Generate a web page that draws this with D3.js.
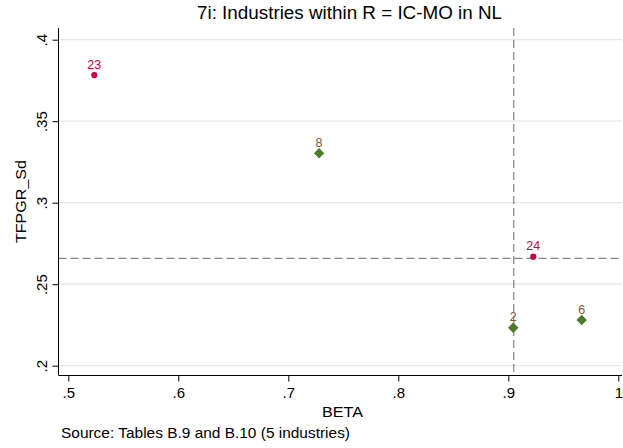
<!DOCTYPE html>
<html><head><meta charset="utf-8">
<script src="https://cdn.jsdelivr.net/npm/d3@7"></script>
<style>body{margin:0;background:#fff}svg{display:block;font-family:"Liberation Sans",Arial,sans-serif}</style>
</head><body><div id="chart"></div>
<script>
const title = "7i: Industries within R = IC-MO in NL";
const xLabel = "BETA";
const yLabel = "TFPGR_Sd";
const note = "Source: Tables B.9 and B.10 (5 industries)";
const xTicks = [0.5, 0.6, 0.7, 0.8, 0.9, 1.0];
const xTickLabels = [".5", ".6", ".7", ".8", ".9", "1"];
const yTicks = [0.2, 0.25, 0.3, 0.35, 0.4];
const yTickLabels = [".2", ".25", ".3", ".35", ".4"];
// group A: red dots
const redIds = ["23", "24"];
const redBeta = [0.5236, 0.9227];
const redSd = [0.3783, 0.2669];
// group B: green diamonds
const greenIds = ["8", "2", "6"];
const greenBeta = [0.728, 0.9045, 0.9667];
const greenSd = [0.3303, 0.2233, 0.2280];
const refX = 0.905;
const refY = 0.2659;

const W = 623, H = 448;
const svg = d3.select("#chart").append("svg").attr("width", W).attr("height", H);
const x = d3.scaleLinear().domain([0.5, 1.0]).range([68.3, 618.3]);
const y = d3.scaleLinear().domain([0.2, 0.4]).range([365.7, 39.7]);
const pLeft = 58.5, pRight = 622, pTop = 28, pBottom = 375.5;

// grid
svg.append("g").selectAll("line").data(yTicks).join("line")
  .attr("x1", pLeft).attr("x2", pRight)
  .attr("y1", d => y(d)).attr("y2", d => y(d))
  .attr("stroke", "#e6e6e6").attr("stroke-width", 1.2);

// reference lines
svg.append("line").attr("x1", x(refX)).attr("x2", x(refX)).attr("y1", pTop).attr("y2", pBottom)
  .attr("stroke", "#666").attr("stroke-width", 1).attr("stroke-dasharray", "8,4");
svg.append("line").attr("x1", pLeft).attr("x2", pRight).attr("y1", y(refY)).attr("y2", y(refY))
  .attr("stroke", "#666").attr("stroke-width", 1).attr("stroke-dasharray", "8,4");

// axes
const xAxis = d3.axisBottom(x).tickValues(xTicks).tickFormat((d, i) => xTickLabels[i]).tickSize(6).tickPadding(6);
const gx = svg.append("g").attr("transform", `translate(0,${pBottom})`).call(xAxis);
gx.select(".domain").remove();
gx.append("line").attr("x1", pLeft).attr("x2", pRight).attr("stroke", "#000");
gx.selectAll(".tick line").attr("stroke", "#000");
gx.selectAll("text").attr("font-size", 15).attr("fill", "#000").attr("font-family", "Liberation Sans, Arial, sans-serif");

const yAxis = d3.axisLeft(y).tickValues(yTicks).tickFormat((d, i) => yTickLabels[i]).tickSize(6).tickPadding(4);
const gy = svg.append("g").attr("transform", `translate(${pLeft},0)`).call(yAxis);
gy.select(".domain").remove();
gy.append("line").attr("y1", pTop).attr("y2", pBottom).attr("stroke", "#000");
gy.selectAll(".tick line").attr("stroke", "#000");
gy.selectAll(".tick text").attr("font-size", 15).attr("fill", "#000")
  .attr("font-family", "Liberation Sans, Arial, sans-serif")
  .attr("text-anchor", "middle").attr("dy", null).attr("x", null)
  .attr("transform", "translate(-12,0) rotate(-90)")
  .attr("y", 0);

// titles
svg.append("text").attr("x", 349.5).attr("y", 19).attr("text-anchor", "middle")
  .attr("font-size", 18).attr("textLength", 305).attr("lengthAdjust", "spacingAndGlyphs").text(title);
svg.append("text").attr("x", 342.5).attr("y", 417).attr("text-anchor", "middle")
  .attr("font-size", 15.5).attr("textLength", 41).attr("lengthAdjust", "spacingAndGlyphs").text(xLabel);
svg.append("text").attr("transform", "translate(26,201.5) rotate(-90)").attr("text-anchor", "middle")
  .attr("font-size", 15.5).attr("textLength", 83).attr("lengthAdjust", "spacingAndGlyphs").text(yLabel);
svg.append("text").attr("x", 61).attr("y", 438).attr("font-size", 15.5)
  .attr("textLength", 289).attr("lengthAdjust", "spacingAndGlyphs").text(note);

// points
const red = redIds.map((id, i) => ({id, b: redBeta[i], s: redSd[i]}));
const green = greenIds.map((id, i) => ({id, b: greenBeta[i], s: greenSd[i]}));
svg.append("g").selectAll("circle").data(red).join("circle")
  .attr("cx", d => x(d.b)).attr("cy", d => y(d.s)).attr("r", 3.1).attr("fill", "#c8003a");
svg.append("g").selectAll("text").data(red).join("text")
  .attr("x", d => x(d.b)).attr("y", d => y(d.s) - 6.5).attr("text-anchor", "middle")
  .attr("font-size", 12.5).attr("fill", "#c8003a").text(d => d.id);
const sym = d3.symbol().type(d3.symbolDiamond2).size(70);
svg.append("g").selectAll("path").data(green).join("path")
  .attr("transform", d => `translate(${x(d.b)},${y(d.s)})`).attr("d", sym).attr("fill", "#4e7a2c");
svg.append("g").selectAll("text").data(green).join("text")
  .attr("x", d => x(d.b)).attr("y", d => y(d.s) - 6.5).attr("text-anchor", "middle")
  .attr("font-size", 12.5).attr("fill", "#7a5c2e").text(d => d.id);
</script></body></html>
